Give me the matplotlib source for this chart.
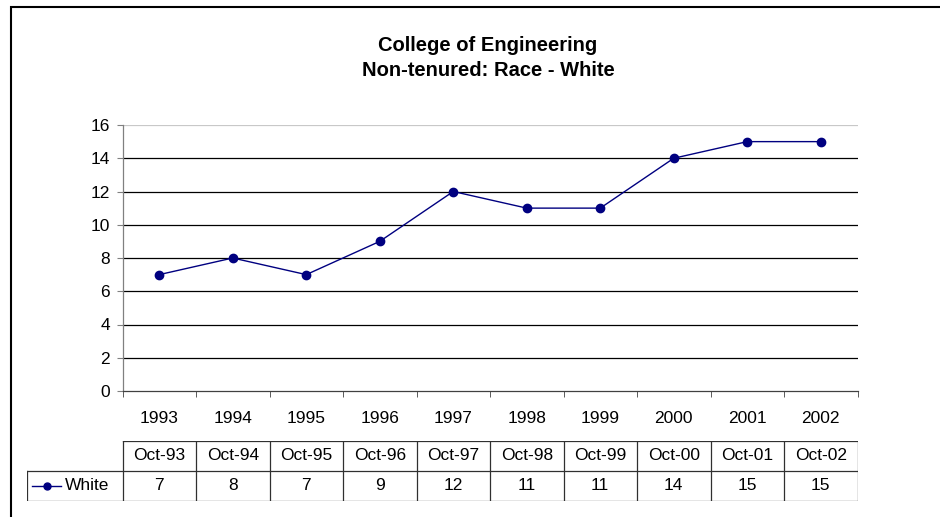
"""
plot.py

College of Engineering non-tenured staff (race: white) with an Excel style data table.
"""
import matplotlib
matplotlib.use("Agg")
from matplotlib import pyplot as plt
from matplotlib.patches import Rectangle

years = ["1993", "1994", "1995", "1996", "1997", "1998", "1999", "2000", "2001", "2002"]
months = ["Oct-93", "Oct-94", "Oct-95", "Oct-96", "Oct-97",
          "Oct-98", "Oct-99", "Oct-00", "Oct-01", "Oct-02"]
white = [7, 8, 7, 9, 12, 11, 11, 14, 15, 15]
series_name = "White"
title = "College of Engineering\nNon-tenured: Race - White"
yticks = [0, 2, 4, 6, 8, 10, 12, 14, 16]

W, H = 940, 517
navy = "#000080"
fs = 12.5
plt.rcParams["font.family"] = ["Liberation Sans", "DejaVu Sans"]


def fx(px):
    return px / W


def fy(py):
    return 1 - py / H


fig = plt.figure(figsize=(W / 100, H / 100), dpi=100)

# outer chart frame (runs off the right and bottom edge as in the original)
fig.add_artist(Rectangle((fx(11), fy(530)), fx(950) - fx(11), fy(7) - fy(530),
                         transform=fig.transFigure, fill=False,
                         edgecolor="black", linewidth=1.5))

fig.text(fx(488), fy(58), title, ha="center", va="center",
         fontsize=14.5, fontweight="bold", linespacing=1.45)

# main plot area
left, right, top, bottom = 122.5, 857.5, 125, 391
ax = fig.add_axes([fx(left), fy(bottom), fx(right) - fx(left), fy(top) - fy(bottom)])
x = list(range(len(years)))
ax.plot(x, white, color=navy, linewidth=1.0, marker="o", markersize=6,
        clip_on=False, zorder=3)
ax.set_xlim(-0.5, len(years) - 0.5)
ax.set_ylim(0, 16)
ax.set_yticks(yticks)
ax.set_yticklabels([str(v) for v in yticks])
for v in yticks[1:-1]:
    ax.axhline(v, color="black", linewidth=0.9, zorder=1)
ax.axhline(16, color="#c8c8c8", linewidth=0.9, zorder=1)

for side in ["top", "right"]:
    ax.spines[side].set_visible(False)
ax.spines["left"].set_color("#808080")
ax.spines["bottom"].set_color("#404040")
ax.spines["left"].set_linewidth(0.9)
ax.spines["bottom"].set_linewidth(0.9)

ax.set_xticks(x)
ax.set_xticklabels(years)
ax.set_xticks([i + 0.5 for i in range(-1, len(years))], minor=True)
ax.tick_params(axis="x", which="major", length=0, pad=14.5, labelsize=fs)
ax.tick_params(axis="x", which="minor", length=4, direction="out", color="#404040")
ax.tick_params(axis="y", length=4, direction="out", color="#808080", pad=5, labelsize=fs)

# data table below the axis
tleft = 27
xmin = -0.5 - (left - tleft) / ((right - left) / len(years))
tab = fig.add_axes([fx(tleft), fy(501), fx(right) - fx(tleft), fy(441) - fy(501)])
tab.set_xlim(xmin, len(years) - 0.5)
tab.set_ylim(0, 2)
tab.axis("off")
grid_kw = dict(color="#303030", linewidth=0.9)
tab.plot([-0.5, len(years) - 0.5], [2, 2], **grid_kw)
tab.plot([xmin, len(years) - 0.5], [1, 1], **grid_kw)
tab.plot([xmin, len(years) - 0.5], [0, 0], **grid_kw)
tab.plot([xmin, xmin], [0, 1], **grid_kw)
for i in range(len(years) + 1):
    tab.plot([i - 0.5, i - 0.5], [0, 2], **grid_kw)
for i, (m, v) in enumerate(zip(months, white)):
    tab.text(i, 1.5, m, ha="center", va="center", fontsize=fs)
    tab.text(i, 0.5, str(v), ha="center", va="center", fontsize=fs)

# legend key inside the first cell
key_x0 = xmin + (32 - tleft) / 73.5
key_x1 = xmin + (61 - tleft) / 73.5
tab.plot([key_x0, key_x1], [0.5, 0.5], color=navy, linewidth=1.0)
tab.plot([(key_x0 + key_x1) / 2], [0.5], color=navy, marker="o", markersize=5)
tab.text(xmin + (65 - tleft) / 73.5, 0.5, series_name, ha="left", va="center", fontsize=fs)

fig.savefig("out.png", dpi=100)
